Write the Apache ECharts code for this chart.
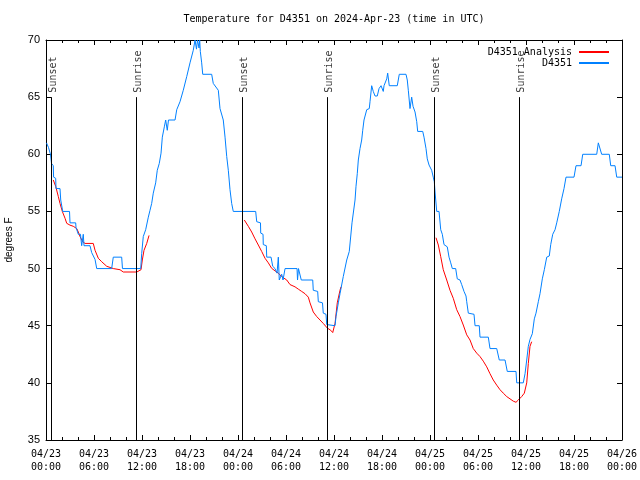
<!DOCTYPE html>
<html>
<head>
<meta charset="utf-8">
<script src="https://cdn.jsdelivr.net/npm/echarts@6/dist/echarts.min.js"></script>
<style>html,body{margin:0;padding:0;background:#fff}#c{width:640px;height:480px}</style>
</head>
<body>
<div id="c"></div>
<script>
// hours since 2024-04-23 00:00 UTC
var obsHours = [0.06,0.31,0.56,0.69,0.91,0.95,1.21,1.25,1.75,1.84,2.04,2.09,2.94,3.00,3.71,3.75,4.00,4.04,4.31,4.46,4.59,4.66,4.75,5.50,5.71,6.13,6.34,8.21,8.41,9.46,9.56,11.84,11.96,12.16,12.46,12.79,13.00,13.21,13.41,13.71,13.91,14.16,14.38,14.54,14.79,14.96,15.16,15.31,16.13,16.34,16.75,17.16,17.59,18.00,18.41,18.63,18.81,18.94,19.13,19.21,19.29,19.46,19.59,20.71,20.91,21.54,21.75,22.16,22.38,22.59,22.79,23.00,23.21,23.41,26.21,26.34,26.81,26.84,27.13,27.16,27.54,27.59,28.13,28.34,28.63,28.88,29.04,29.16,29.46,29.63,29.88,31.38,31.44,31.56,31.81,31.91,33.34,33.41,33.96,34.04,34.56,34.66,35.00,35.09,36.13,36.25,36.54,36.75,37.16,37.59,37.91,38.25,38.63,38.75,38.91,39.04,39.25,39.46,39.59,39.75,39.96,40.09,40.41,40.50,40.71,40.91,41.13,41.41,41.63,41.88,42.16,42.25,42.59,42.71,42.91,43.91,44.16,45.00,45.16,45.29,45.50,45.71,45.88,46.13,46.34,46.46,47.09,47.25,47.50,47.66,47.88,48.21,48.41,48.54,48.63,48.84,49.13,49.34,49.54,49.75,50.16,50.38,50.59,50.79,51.21,51.41,51.75,51.96,52.25,52.50,52.59,52.79,53.50,53.63,54.16,54.25,55.29,55.50,56.34,56.66,57.38,57.66,58.75,58.84,59.66,59.88,60.09,60.29,60.50,60.79,61.04,61.25,61.54,61.75,62.04,62.29,62.59,62.91,63.09,63.34,63.63,63.84,64.16,64.46,64.75,65.00,66.00,66.25,66.88,67.09,68.84,69.04,69.29,69.46,70.41,70.59,71.13,71.34,72.00];
var obsTemp = [61.0,60.6,60.0,59.2,59.0,58.0,57.9,57.0,57.0,56.0,56.0,55.0,55.0,54.0,54.0,53.6,53.5,53.0,53.0,52.0,52.0,53.0,52.0,52.0,51.4,50.8,50.0,50.0,51.0,51.0,50.0,50.0,51.3,52.8,53.4,54.5,55.1,55.7,56.6,57.5,58.6,59.2,60.1,61.5,62.4,63.0,62.1,63.0,63.0,63.9,64.6,65.6,66.8,68.0,69.1,70.0,69.2,70.0,69.3,70.0,69.0,68.0,67.0,67.0,66.2,65.6,64.0,63.0,61.5,59.8,58.6,56.9,55.7,55.0,55.0,54.1,54.0,53.1,53.0,52.1,52.0,51.0,51.0,50.2,50.0,49.6,51.0,49.0,49.5,49.0,50.0,50.0,49.0,50.0,50.0,49.0,49.0,48.1,48.0,47.1,47.0,46.1,46.0,45.1,45.0,45.8,47.0,47.8,49.3,50.75,51.5,54.0,56.0,57.2,58.3,59.5,60.5,61.25,62.1,63.0,63.0,63.9,64.0,64.6,66.0,65.5,65.1,65.1,65.75,66.0,65.5,66.0,66.6,67.1,66.0,66.0,67.0,67.0,66.5,65.6,64.0,65.0,64.2,63.7,62.85,62.0,62.0,61.5,60.5,59.6,59.06,58.6,58.0,57.6,56.7,55.0,55.0,53.4,53.0,52.1,51.9,51.0,50.5,50.0,50.0,49.1,49.0,48.6,48.0,47.6,47.1,46.1,46.0,45.0,45.0,44.0,44.0,43.0,43.0,42.0,42.0,41.0,41.0,40.0,40.0,40.8,42.0,43.2,43.8,44.3,45.6,46.1,47.1,47.8,49.1,49.9,51.0,51.1,52.1,53.0,53.4,54.0,55.0,56.1,57.0,58.0,58.0,59.0,59.0,60.0,60.0,61.0,61.0,60.0,60.0,59.0,59.0,58.0,58.0];

var anaHours1 = [0.91,1.21,1.54,1.75,2.04,2.38,2.59,3.00,3.41,3.84,4.04,4.25,4.59,4.88,5.91,6.13,6.54,6.96,7.59,8.41,9.25,9.66,11.34,11.88,12.04,12.25,12.59,12.88];
var anaTemp1  = [57.75,57.2,56.3,55.7,55.0,54.4,53.96,53.8,53.7,53.5,53.2,52.8,52.35,52.2,52.2,51.6,50.9,50.6,50.2,50.0,49.9,49.7,49.7,49.9,50.75,51.6,52.2,52.9];
var anaHours2 = [24.79,25.29,25.71,26.13,26.54,26.96,27.38,27.79,28.21,28.63,29.04,29.46,30.09,30.50,31.13,31.54,31.96,32.38,32.79,33.00,33.41,33.84,34.25,34.66,35.16,35.59,35.84,36.13,36.41,36.75,36.88];
var anaTemp2  = [54.25,53.7,53.2,52.6,52.06,51.5,50.9,50.5,50.02,49.8,49.6,49.3,49.0,48.6,48.4,48.2,48.0,47.8,47.5,47.0,46.2,45.8,45.5,45.2,44.8,44.6,44.4,45.2,47.0,48.1,48.4];
var anaHours3 = [48.75,49.04,49.34,49.66,50.09,50.50,50.91,51.34,51.75,52.16,52.59,53.00,53.41,53.84,54.25,54.66,55.09,55.50,55.91,56.34,56.75,57.16,57.59,58.00,58.41,58.75,59.04,59.46,59.79,60.09,60.29,60.50,60.71];
var anaTemp3  = [52.7,52.06,51.04,49.9,49.0,48.1,47.4,46.4,45.8,45.06,44.2,43.75,43.0,42.6,42.3,41.9,41.4,40.8,40.25,39.8,39.4,39.1,38.8,38.6,38.4,38.3,38.5,38.8,39.1,40.0,41.7,43.2,43.6];

var eventHours = [0.71, 11.3, 24.53, 35.16, 48.54, 59.16];
var eventNames = ['Sunset','Sunrise','Sunset','Sunrise','Sunset','Sunrise'];
var eventTop = 65;

var tickLabels = ['04/23\n00:00','04/23\n06:00','04/23\n12:00','04/23\n18:00','04/24\n00:00','04/24\n06:00','04/24\n12:00','04/24\n18:00','04/25\n00:00','04/25\n06:00','04/25\n12:00','04/25\n18:00','04/26\n00:00'];

function zip(a, b) { return a.map(function (v, i) { return [v, b[i]]; }); }
var obsData = zip(obsHours, obsTemp);
var anaData = zip(anaHours1, anaTemp1).concat(['-'], zip(anaHours2, anaTemp2), ['-'], zip(anaHours3, anaTemp3));

var mono = 'DejaVu Sans Mono';
var sans = 'Liberation Sans';
var black = '#000';

var chart = echarts.init(document.getElementById('c'), null, { renderer: 'canvas' });
var axisCommon = {
  axisLine: { show: true, onZero: false, lineStyle: { color: black, width: 1 } },
  axisTick: { show: true, inside: true, length: 5, lineStyle: { color: black } },
  splitLine: { show: false }
};
chart.setOption({
  animation: false,
  backgroundColor: '#fff',
  graphic: [{
    type: 'text', x: 334, y: 14,
    style: { text: 'Temperature for D4351 on 2024-Apr-23 (time in UTC)', font: '10px "DejaVu Sans Mono"', fill: black, textAlign: 'center', textVerticalAlign: 'top' }
  }],
  legend: {
    orient: 'vertical', right: 26, top: 42, align: 'right', itemGap: 1,
    itemWidth: 30, itemHeight: 2, icon: 'rect',
    textStyle: { fontFamily: mono, fontSize: 10, color: black, padding: [0, 2, 0, 0] },
    data: ['D4351 Analysis', 'D4351']
  },
  grid: { left: 46, right: 18, top: 40, bottom: 40, containLabel: false, outerBoundsMode: 'none' },
  xAxis: [
    Object.assign({}, axisCommon, {
      type: 'value', min: 0, max: 72, interval: 6, position: 'bottom',
      minorTick: { show: true, splitNumber: 3, length: 3, lineStyle: { color: black } },
      axisLabel: {
        margin: 8, fontFamily: mono, fontSize: 10, color: black, lineHeight: 13,
        formatter: function (v) { return tickLabels[Math.round(v / 6)] || ''; }
      }
    }),
    Object.assign({}, axisCommon, {
      type: 'value', min: 0, max: 72, interval: 6, position: 'top',
      minorTick: { show: true, splitNumber: 3, length: 3, lineStyle: { color: black } },
      axisLabel: { show: false }
    })
  ],
  yAxis: [
    Object.assign({}, axisCommon, {
      type: 'value', min: 35, max: 70, interval: 5, position: 'left',
      name: 'degrees F', nameLocation: 'middle', nameGap: 32, nameRotate: 90,
      nameTextStyle: { fontFamily: sans, fontSize: 10, color: black },
      axisLabel: { margin: 6, fontFamily: sans, fontSize: 11, color: black }
    }),
    Object.assign({}, axisCommon, {
      type: 'value', min: 35, max: 70, interval: 5, position: 'right',
      axisLabel: { show: false }
    })
  ],
  series: [
    {
      name: 'D4351 Analysis', type: 'line', data: anaData, symbol: 'none', connectNulls: false,
      lineStyle: { color: '#ff0000', width: 1 }, itemStyle: { color: '#ff0000' }, z: 3
    },
    {
      name: 'D4351', type: 'line', data: obsData, symbol: 'none',
      lineStyle: { color: '#0080ff', width: 1 }, itemStyle: { color: '#0080ff' }, z: 4
    },
    {
      name: 'events', type: 'scatter', symbolSize: 1, z: 2,
      itemStyle: { color: 'rgba(0,0,0,0)' },
      data: eventHours.map(function (h, i) { return { value: [h, eventTop], name: eventNames[i] }; }),
      label: {
        show: true, position: 'top', distance: 4, rotate: 90, align: 'left', verticalAlign: 'middle',
        offset: [0, 2],
        fontFamily: mono, fontSize: 10, color: black,
        formatter: function (p) { return p.name; }
      },
      markLine: {
        silent: true, symbol: 'none', animation: false,
        lineStyle: { color: black, width: 1, type: 'solid' },
        label: { show: false },
        data: eventHours.map(function (h) { return [{ coord: [h, 35] }, { coord: [h, eventTop] }]; })
      }
    }
  ]
});
</script>
</body>
</html>
